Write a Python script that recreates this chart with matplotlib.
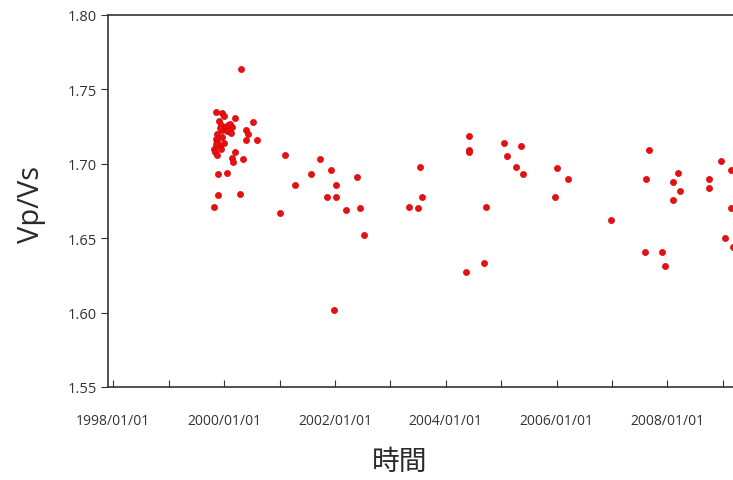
import matplotlib
matplotlib.use("Agg")
import matplotlib.pyplot as plt
import matplotlib.dates as mdates
import pandas as pd

# decimal year of each event, and the Vp/Vs value
years = [
    1999.85, 1999.96, 2000.00, 2000.20, 2000.52, 1999.90, 1999.95, 2000.02,
    2000.08, 2000.14, 1999.97, 2000.05, 2000.40, 1999.88, 1999.96, 2000.43,
    1999.85, 2000.40, 2000.59, 1999.87, 1999.92, 1999.82, 1999.95, 1999.84,
    1999.88, 2000.20, 2000.14, 2000.16, 2000.34, 1999.89, 2000.05, 1999.89,
    2000.29, 1999.82, 2000.30, 1999.93, 2000.10, 1999.86, 1999.99, 2000.12,
    2001.10, 2001.73, 2001.57, 2001.93, 2001.28, 2002.02, 2002.40, 2001.86,
    2002.02, 2001.01, 2002.20, 2002.45, 2002.53, 2001.98,
    2003.53, 2003.57, 2003.34, 2003.50,
    2004.42, 2004.42, 2004.43, 2004.73, 2004.69, 2004.37,
    2005.05, 2005.36, 2005.10, 2005.27, 2005.39, 2006.01, 2006.21, 2005.97,
    2006.98,
    2007.67, 2007.62, 2008.19, 2008.10, 2008.23, 2008.10, 2008.75, 2008.75,
    2008.97, 2009.15, 2009.15, 2009.04, 2009.19, 2007.59, 2007.90, 2007.96,
]
vpvs = [
    1.735, 1.734, 1.732, 1.731, 1.728, 1.729, 1.726, 1.725,
    1.726, 1.725, 1.723, 1.722, 1.723, 1.720, 1.718, 1.720,
    1.717, 1.716, 1.716, 1.715, 1.712, 1.710, 1.710, 1.708,
    1.706, 1.708, 1.704, 1.701, 1.703, 1.693, 1.694, 1.679,
    1.680, 1.671, 1.764, 1.724, 1.727, 1.713, 1.714, 1.721,
    1.706, 1.703, 1.693, 1.696, 1.686, 1.686, 1.691, 1.678,
    1.678, 1.667, 1.669, 1.670, 1.652, 1.602,
    1.698, 1.678, 1.671, 1.670,
    1.719, 1.709, 1.708, 1.671, 1.633, 1.627,
    1.714, 1.712, 1.705, 1.698, 1.693, 1.697, 1.690, 1.678,
    1.662,
    1.709, 1.690, 1.694, 1.688, 1.682, 1.676, 1.690, 1.684,
    1.702, 1.696, 1.670, 1.650, 1.644, 1.641, 1.641, 1.631,
]

y_ticks = [1.55, 1.60, 1.65, 1.70, 1.75, 1.80]


def to_date(y):
    start = pd.Timestamp(year=int(y), month=1, day=1)
    return start + pd.Timedelta(days=(y - int(y)) * 365.25)


dates = [to_date(y) for y in years]

plt.rcParams['font.family'] = ['Open Sans', 'DejaVu Sans']

fig = plt.figure(figsize=(7.33, 4.81), dpi=100)
# axes runs past the right edge, the reference is cropped there
ax = fig.add_axes([108 / 733, 1 - 388 / 481, (745 - 108) / 733, (388 - 16) / 481])

ax.scatter(dates, vpvs, s=20, color='#e81010', edgecolors='#cc0000',
           linewidths=0.4, zorder=3)

ax.set_xlim(to_date(1997.904), to_date(2009.40))
ax.set_ylim(1.55, 1.80)
ax.set_yticks(y_ticks)
ax.yaxis.set_major_formatter(plt.FuncFormatter(lambda v, p: f"{v:.2f}"))

ax.xaxis.set_major_locator(mdates.YearLocator(1))


def fmt_date(v, pos):
    d = mdates.num2date(v)
    return d.strftime("%Y/%m/%d") if d.year % 2 == 0 else ""


ax.xaxis.set_major_formatter(plt.FuncFormatter(fmt_date))

ax.spines['right'].set_visible(False)
for s in ['top', 'left', 'bottom']:
    ax.spines[s].set_color('#333333')
    ax.spines[s].set_linewidth(1.2)

ax.tick_params(axis='x', direction='in', length=5, width=0.8, colors='#333333',
               labelsize=10, pad=19)
ax.tick_params(axis='y', direction='out', length=5, width=0.8, colors='#333333',
               labelsize=10.5, pad=3)

fig.text(32 / 733, 1 - 205 / 481, "Vp/Vs", rotation=90, fontsize=21,
         color='#2a2a2a', ha='center', va='center')
fig.text(400 / 733, 1 - 462 / 481, "時間", fontsize=20, color='#2a2a2a',
         ha='center', va='center', family=['Noto Sans CJK JP', 'DejaVu Sans'])

fig.savefig("out.png", dpi=100)
